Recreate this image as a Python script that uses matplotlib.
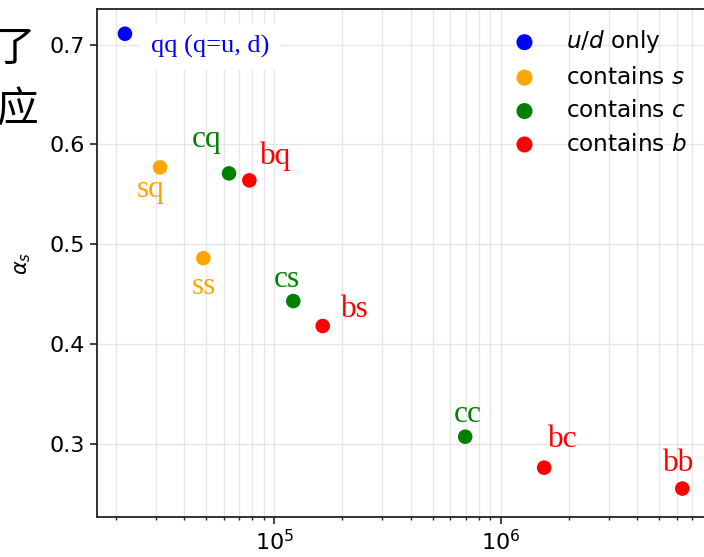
import matplotlib
matplotlib.use("Agg")
import matplotlib.pyplot as plt
import numpy as np

# ---- data ----
names = ['qq (q=u, d)', 'sq', 'ss', 'cq', 'bq', 'cs', 'bs', 'cc', 'bc', 'bb']
scale_vals = [2.19e4, 3.13e4, 4.86e4, 6.31e4, 7.76e4, 1.213e5, 1.636e5, 6.97e5, 1.556e6, 6.34e6]
alpha_s = [0.711, 0.577, 0.486, 0.571, 0.564, 0.443, 0.418, 0.307, 0.276, 0.255]
groups = ['ud', 's', 's', 'c', 'b', 'c', 'b', 'c', 'b', 'b']

group_order = ['ud', 's', 'c', 'b']
group_labels = ['$u/d$ only', 'contains $s$', 'contains $c$', 'contains $b$']
group_colors = {'ud': 'blue', 's': 'orange', 'c': 'green', 'b': 'red'}

# label offsets (pixels) and alignment
label_offsets = [(26, -13), (-9, -22), (1, -28), (-22, 34), (26, 24),
                 (-6, 22), (32, 16), (3, 22), (19, 28), (-4, 25)]
label_ha = ['left', 'center', 'center', 'center', 'center',
            'center', 'center', 'center', 'center', 'center']
label_sizes = [19, 22.5, 22.5, 22.5, 22.5, 22.5, 22.5, 22.5, 22.5, 22.5]

yticks = [0.3, 0.4, 0.5, 0.6, 0.7]

fig = plt.figure(figsize=(7.04, 5.57), dpi=100)
ax = fig.add_axes([0.1374, 0.0718, (722 - 96.7) / 704, 0.9115])

x = np.array(scale_vals)
y = np.array(alpha_s)
g = np.array(groups)

for key, lab in zip(group_order, group_labels):
    m = g == key
    ax.scatter(x[m], y[m], s=110, color=group_colors[key], label=lab, zorder=3,
               edgecolors='none')

for i, name in enumerate(names):
    kw = {}
    if i == 0:
        kw['bbox'] = dict(facecolor='white', edgecolor='none', boxstyle='square,pad=0.45')
    ax.annotate(name, (x[i], y[i]), xytext=label_offsets[i], textcoords='offset pixels',
                ha=label_ha[i], va='center', fontsize=label_sizes[i], family='Liberation Serif',
                color=group_colors[groups[i]], zorder=4, **kw)

ax.set_xscale('log')
ax.set_xlim(16430, 9.5e6)
ax.set_ylim(0.2265, 0.7355)
ax.set_yticks(yticks)
ax.set_yticklabels([f'{v:.1f}' for v in yticks])

ax.grid(True, which='both', axis='x', color='0.9', lw=1.0, zorder=0)
ax.grid(True, which='major', axis='y', color='0.9', lw=1.0, zorder=0)
ax.set_axisbelow(True)

ax.tick_params(axis='both', which='major', labelsize=16, length=5, width=1.2, color='#222222')
ax.tick_params(axis='x', which='minor', length=2.5, width=1.0, color='#222222')
for sp in ax.spines.values():
    sp.set_linewidth(1.3)
    sp.set_color('#222222')

ax.set_ylabel(r'$\alpha_s$', fontsize=15, labelpad=12)

leg = fig.legend(loc='upper left', bbox_to_anchor=(492 / 704, 1 - 19 / 557),
                 frameon=False, fontsize=16.7, borderaxespad=0, markerscale=1.1,
                 labelspacing=0.45)

fig.text(15 / 704, 1 - 49 / 557, '了', fontsize=30, family='Noto Sans CJK SC',
         ha='center', va='center')
fig.text(17 / 704, 1 - 110 / 557, '应', fontsize=30, family='Noto Sans CJK SC',
         ha='center', va='center')

fig.savefig('out.png', dpi=100)
